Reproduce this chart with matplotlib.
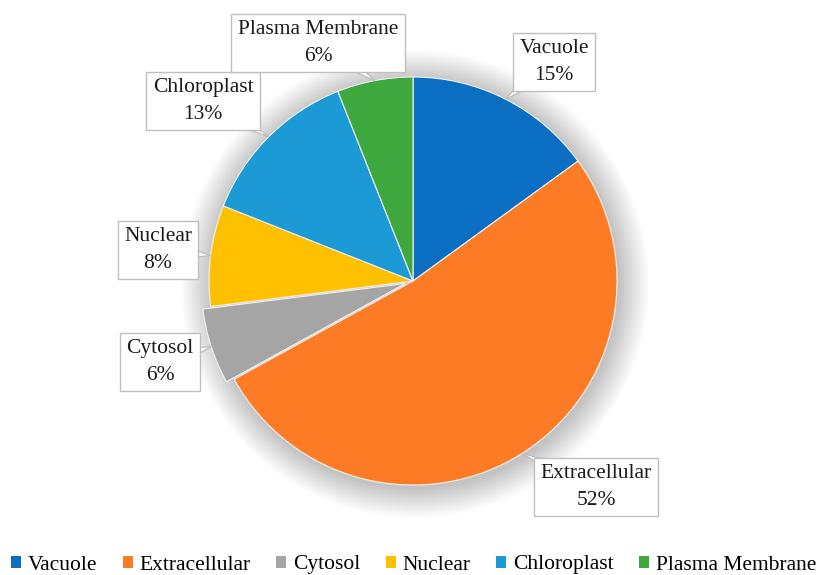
import matplotlib
matplotlib.use("Agg")
import matplotlib.pyplot as plt
from matplotlib.patches import Patch, Circle, Polygon
import numpy as np

categories = ["Vacuole", "Extracellular", "Cytosol", "Nuclear", "Chloroplast", "Plasma Membrane"]
values = [15, 52, 6, 8, 13, 6]
colors = ["#0A6FC2", "#FE7B25", "#A5A5A5", "#FFC000", "#1C9AD6", "#3EA83E"]
explode_frac = [0, 0, 0.04, 0, 0, 0]

# label box centres in pixel coords (layout only)
label_pos = {
    "Vacuole": (554, 62),
    "Extracellular": (596, 487),
    "Cytosol": (160, 362),
    "Nuclear": (158, 250),
    "Chloroplast": (203, 101),
    "Plasma Membrane": (318, 43),
}

plt.rcParams['font.family'] = ['Liberation Serif', 'DejaVu Serif']

W, H = 827, 575
fig = plt.figure(figsize=(W / 100, H / 100), dpi=100)
ax = fig.add_axes([0, 0, 1, 1])

cx, cy, R = 413, H - 281, 204

# soft shadow
for k in range(30, 0, -1):
    ax.add_patch(Circle((cx + 2, cy - 3), R + k, color='black', alpha=0.006, lw=0, zorder=0))

wedges, _ = ax.pie(values, colors=colors, startangle=90, counterclock=False,
                   center=(cx, cy), radius=R, explode=[e * R for e in explode_frac], frame=True,
                   wedgeprops=dict(edgecolor='#F2F2F2', linewidth=0.8))
ax.set_xlim(0, W)
ax.set_ylim(0, H)
ax.set_aspect('equal')
ax.axis('off')

total = sum(values)
for w, cat, v in zip(wedges, categories, values):
    ang = np.deg2rad((w.theta1 + w.theta2) / 2)
    wc = w.center
    px = wc[0] + w.r * np.cos(ang)
    py = wc[1] + w.r * np.sin(ang)
    lx, ly = label_pos[cat]
    ly = H - ly
    d = np.array([px - lx, py - ly])
    d = d / np.hypot(*d)
    n = np.array([-d[1], d[0]])
    hw = 12
    tri = Polygon([(lx + n[0] * hw, ly + n[1] * hw), (px, py), (lx - n[0] * hw, ly - n[1] * hw)],
                  closed=True, fc='white', ec='#BFBFBF', lw=1, zorder=4)
    ax.add_patch(tri)
    ax.text(lx, ly, f"{cat}\n{round(100 * v / total)}%",
            ha='center', va='center', fontsize=15.5, color='#1a1a1a', linespacing=1.55,
            bbox=dict(boxstyle='square,pad=0.3', fc='white', ec='#BFBFBF', lw=1),
            zorder=5)

handles = [Patch(facecolor=c, edgecolor='none', label=l) for c, l in zip(colors, categories)]
fig.legend(handles=handles, loc='center', bbox_to_anchor=(0.5, 1 - 565 / H), ncol=6,
           frameon=False, fontsize=15.5, handlelength=0.47, handleheight=0.47,
           handletextpad=0.3, columnspacing=1.2, borderaxespad=0, borderpad=0)

fig.savefig("out.png", dpi=100, facecolor='white')
